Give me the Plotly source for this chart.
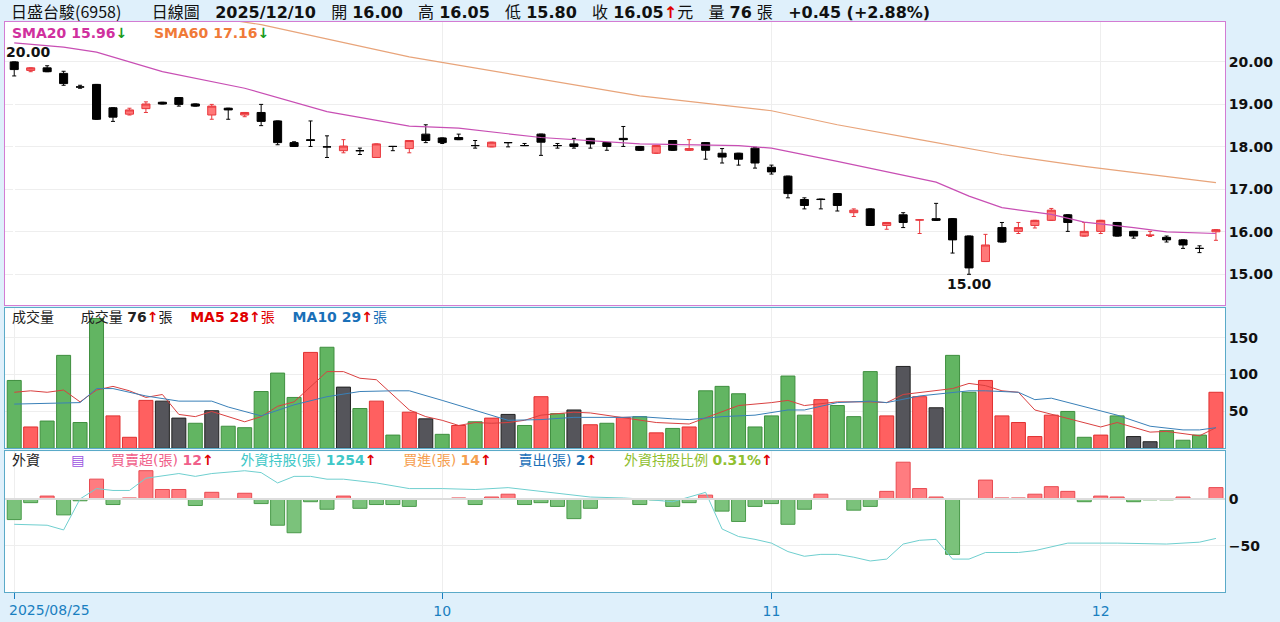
import plotly.graph_objects as go
from plotly.subplots import make_subplots

# ---- data (74 trading days, 2025/08/25 .. 2025/12/10) ----
opens = [20.00, 19.80, 19.86, 19.73, 19.41, 19.47, 18.92, 18.77, 18.90, 19.05,
         19.16, 19.01, 18.75, 18.91, 18.75, 18.81, 18.61, 18.10, 18.17, 18.00,
         17.91, 17.91, 17.75, 18.01, 17.96, 18.30, 18.21, 18.22, 18.03, 18.00,
         18.10, 18.03, 18.30, 18.03, 18.07, 18.20, 18.10, 18.20, 18.01, 17.85,
         18.15, 17.92, 18.10, 17.85, 17.85, 17.97, 17.52, 17.31, 16.76, 16.77,
         16.90, 16.45, 16.54, 16.15, 16.40, 16.28, 16.31, 16.31, 15.90, 15.30,
         16.10, 16.01, 16.15, 16.27, 16.40, 15.90, 16.01, 16.22, 16.01, 15.92,
         15.87, 15.81, 15.61, 16.00]
highs = [20.00, 19.86, 19.91, 19.78, 19.45, 19.47, 18.92, 18.91, 19.06, 19.05,
         19.16, 19.01, 19.00, 18.91, 18.81, 19.00, 18.61, 18.12, 18.61, 18.26,
         18.17, 17.97, 18.07, 18.01, 18.15, 18.52, 18.21, 18.30, 18.15, 18.11,
         18.10, 18.08, 18.30, 18.08, 18.20, 18.20, 18.10, 18.48, 18.01, 18.03,
         18.15, 18.17, 18.10, 17.96, 17.85, 17.99, 17.57, 17.31, 16.80, 16.77,
         16.90, 16.54, 16.54, 16.22, 16.45, 16.28, 16.67, 16.31, 15.90, 15.94,
         16.22, 16.22, 16.27, 16.55, 16.40, 16.22, 16.27, 16.22, 16.01, 16.01,
         15.90, 15.81, 15.67, 16.05]
lows = [19.67, 19.77, 19.77, 19.45, 19.38, 18.65, 18.60, 18.75, 18.81, 19.01,
        18.96, 18.96, 18.65, 18.65, 18.71, 18.50, 18.05, 18.01, 18.01, 17.75,
        17.86, 17.82, 17.75, 17.91, 17.86, 18.10, 18.08, 18.17, 17.97, 18.00,
        18.00, 18.03, 17.80, 17.97, 17.97, 17.97, 17.92, 18.01, 17.92, 17.85,
        17.92, 17.92, 17.71, 17.62, 17.57, 17.50, 17.36, 16.80, 16.54, 16.54,
        16.49, 16.36, 16.15, 16.06, 16.10, 15.96, 16.27, 15.50, 15.00, 15.30,
        15.76, 15.96, 16.09, 16.27, 16.01, 15.90, 15.96, 15.90, 15.85, 15.89,
        15.76, 15.61, 15.51, 15.80]
closes = [19.82, 19.86, 19.77, 19.49, 19.41, 18.65, 18.70, 18.87, 19.01, 19.01,
          19.00, 18.96, 18.96, 18.87, 18.81, 18.60, 18.10, 18.01, 18.15, 18.00,
          18.02, 17.91, 18.07, 18.01, 18.15, 18.15, 18.10, 18.17, 18.03, 18.11,
          18.10, 18.03, 18.11, 18.03, 18.01, 18.07, 18.01, 18.17, 17.92, 18.03,
          17.92, 17.96, 17.92, 17.76, 17.71, 17.62, 17.41, 16.90, 16.62, 16.76,
          16.62, 16.51, 16.15, 16.22, 16.22, 16.28, 16.27, 15.81, 15.15, 15.69,
          15.76, 16.10, 16.27, 16.51, 16.22, 16.01, 16.27, 15.90, 15.90, 15.92,
          15.81, 15.69, 15.61, 16.05]

sma20_x = [0, 3, 5, 9, 14, 19, 24, 27, 32, 38, 44, 46, 50, 56, 58, 60, 63, 65, 68, 70, 73]
sma20_y = [20.45, 20.35, 20.23, 19.77, 19.38, 18.83, 18.49, 18.44, 18.22, 18.07, 18.03,
           17.97, 17.66, 17.17, 16.84, 16.57, 16.41, 16.23, 16.10, 16.00, 15.96]
sma60_x = [12, 15, 24, 38, 46, 50, 55, 60, 65, 70, 73]
sma60_y = [21.05, 20.88, 20.12, 19.20, 18.85, 18.52, 18.17, 17.82, 17.54, 17.31, 17.16]

volume = [92, 29, 37, 126, 35, 176, 44, 15, 65, 64, 41, 34, 51, 30, 28, 77, 102, 69, 130, 137,
          83, 54, 64, 18, 49, 40, 19, 31, 36, 41, 46, 31, 70, 47, 52, 32, 34, 42, 43, 21,
          27, 29, 78, 84, 74, 29, 44, 98, 45, 66, 58, 43, 104, 44, 111, 70, 55, 126, 76, 92,
          44, 35, 16, 45, 50, 15, 18, 44, 16, 9, 24, 11, 18, 76]
# G = green, R = red, D = dark grey
vol_kind = list("GRGGGGRRRDDGDGGGGGRGDGRGRDGRGRDGRGDRGRG"
                "RGRGGGGGGGRGGGRDRDGGRRRRRGGRGDDGGGR")

ma5_x = list(range(0, 39)) + [39, 41, 42, 44, 46, 47, 48, 50, 52, 53, 54, 55, 57, 58, 59, 60, 61, 62, 64, 66, 67, 69, 70, 72, 73]
ma5_y = [76, 78, 76, 79, 63, 79, 84, 78, 69, 73, 46, 43, 50, 43, 36, 43, 57, 63, 83, 104,
         104, 95, 93, 73, 52, 43, 38, 31, 35, 34, 35, 38, 45, 47, 49, 48, 45, 41, 38,
         35, 33, 41, 58, 62, 65, 58, 63, 63, 62, 73, 76, 81, 88, 85, 78, 76, 52, 41, 29,
         35, 22, 23, 17, 28]
ma10_x = [0, 3, 4, 5, 6, 8, 10, 12, 13, 15, 17, 19, 21, 23, 24, 26, 28, 30, 32, 34, 37,
          38, 40, 41, 43, 45, 47, 48, 50, 52, 53, 55, 58, 59, 61, 62, 63, 65, 66, 67, 69, 71, 72, 73]
ma10_y = [60, 62, 62, 81, 81, 71, 64, 64, 56, 44, 59, 70, 77, 78, 78, 65, 52, 38, 39, 42, 42,
          43, 40, 39, 43, 45, 52, 52, 62, 64, 62, 71, 78, 78, 76, 66, 68, 57, 51, 45, 30, 25, 25, 28]

foreign_net = [-22, -4, 3, -17, -2, 21, -6, 1, 30, 10, 10, -7, 7, 0, 6, -5, -28, -36, -3, -11,
               3, -10, -6, -6, -8, 0, 0, 1, -6, 2, 5, -6, -4, -8, -21, -10, 0, 0, -6, -1,
               -8, -4, 4, -13, -24, -8, -5, -27, -11, 5, 0, -12, -8, 8, 39, 11, 2, -59, 0, 20,
               1, 1, 5, 13, 8, -3, 3, 2, -3, -1, -1, 2, 0, 12]
# foreign holdings (張), estimated from the unlabeled line
hold_x = [0, 2, 3, 4, 5, 6, 7, 8, 10, 11, 12, 14, 15, 16, 17, 18, 19, 20, 22, 24, 26, 28,
          30, 32, 33, 35, 37, 38, 40, 42, 43, 44, 45, 46, 47, 48, 49, 50, 51, 52, 53, 54,
          55, 56, 57, 58, 59, 61, 62, 64, 66, 67, 70, 72, 73]
hold_y = [1314, 1310, 1290, 1422, 1466, 1458, 1458, 1510, 1530, 1518, 1530, 1542, 1534, 1490,
          1518, 1518, 1506, 1506, 1490, 1466, 1466, 1462, 1470, 1454, 1446, 1430, 1426, 1422,
          1410, 1450, 1294, 1262, 1250, 1234, 1198, 1178, 1186, 1186, 1174, 1158, 1166, 1230,
          1246, 1250, 1166, 1166, 1194, 1194, 1202, 1234, 1234, 1234, 1230, 1238, 1254]

tick_idx = [0, 26, 46, 66]
tick_txt = ["", "10", "11", "12"]
first_date = "2025/08/25"

FONT = "DejaVu Sans, Noto Sans CJK TC, sans-serif"
CJK = "Noto Sans CJK TC, sans-serif"
vol_colors = {"G": ("#62b562", "#3f8f3f"), "R": ("#ff6060", "#e03030"), "D": ("#55555b", "#222222")}

fig = make_subplots(rows=3, cols=1, shared_xaxes=True,
                    specs=[[{}], [{}], [{"secondary_y": True}]])

idx = list(range(len(closes)))
fig.add_trace(go.Candlestick(
    x=idx, open=opens, high=highs, low=lows, close=closes,
    increasing=dict(line=dict(color="#e8383d", width=1), fillcolor="#ff7878"),
    decreasing=dict(line=dict(color="#000000", width=1), fillcolor="#000000"),
    whiskerwidth=0.5, showlegend=False, hoverinfo="skip"), row=1, col=1)
fig.add_trace(go.Scatter(x=sma20_x, y=sma20_y, mode="lines",
                         line=dict(color="#c84fb4", width=1.2), showlegend=False), row=1, col=1)
fig.add_trace(go.Scatter(x=sma60_x, y=sma60_y, mode="lines",
                         line=dict(color="#e8a47a", width=1.2), showlegend=False), row=1, col=1)

fig.add_trace(go.Bar(x=idx, y=volume, width=0.85,
                     marker=dict(color=[vol_colors[k][0] for k in vol_kind],
                                 line=dict(color=[vol_colors[k][1] for k in vol_kind], width=1)),
                     showlegend=False), row=2, col=1)
fig.add_trace(go.Scatter(x=ma5_x, y=ma5_y, mode="lines",
                         line=dict(color="#d94040", width=1), showlegend=False), row=2, col=1)
fig.add_trace(go.Scatter(x=ma10_x, y=ma10_y, mode="lines",
                         line=dict(color="#3a80b8", width=1), showlegend=False), row=2, col=1)

fig.add_trace(go.Bar(x=idx, y=foreign_net, width=0.85,
                     marker=dict(color=["#ff7c80" if v > 0 else "#7bc27b" for v in foreign_net],
                                 line=dict(color=["#e84a50" if v > 0 else "#4a9a4a" for v in foreign_net], width=1)),
                     showlegend=False), row=3, col=1, secondary_y=False)
fig.add_trace(go.Scatter(x=hold_x, y=hold_y, mode="lines",
                         line=dict(color="#6fcfcf", width=1), showlegend=False),
              row=3, col=1, secondary_y=True)

axis_common = dict(showgrid=True, gridcolor="#eeeeee", zeroline=False, showline=True,
                   mirror=True, ticks="", automargin=False,
                   tickfont=dict(family="DejaVu Sans", size=14, color="#111", weight="bold"))
fig.update_layout(
    width=1280, height=622, margin=dict(l=5, r=55, t=22, b=30, autoexpand=False),
    paper_bgcolor="#dff0fb", plot_bgcolor="#ffffff",
    font=dict(family=FONT), bargap=0.1, showlegend=False,
    xaxis_rangeslider_visible=False,
    yaxis=dict(domain=[0.503, 1.0], range=[14.27, 20.94], side="right",
               tickvals=[15, 16, 17, 18, 19, 20], tickformat=".2f", linecolor="#d37cd3", **axis_common),
    yaxis2=dict(domain=[0.252, 0.498], range=[0, 190], side="right",
                tickvals=[50, 100, 150], linecolor="#5aaac8", **axis_common),
    yaxis3=dict(domain=[0.0, 0.247], range=[-99, 50.7], side="right",
                tickvals=[-50, 0], linecolor="#5aaac8", **axis_common),
    yaxis4=dict(range=[1026, 1625], overlaying="y3", visible=False),
)
for ax in ["xaxis", "xaxis2", "xaxis3"]:
    fig.layout[ax].update(domain=[0, 1], range=[-0.56, 73.55], showgrid=True, gridcolor="#eeeeee",
                          tickvals=tick_idx, showline=True, mirror=True, automargin=False)
fig.layout.xaxis.update(linecolor="#d37cd3", showticklabels=False)
fig.layout.xaxis2.update(linecolor="#5aaac8", showticklabels=False)
fig.layout.xaxis3.update(linecolor="#5aaac8", ticktext=tick_txt, ticks="outside", ticklen=6,
                         tickcolor="#1a7fc0", tickfont=dict(family="DejaVu Sans", size=14, color="#1a7fc0"))
# zero line of foreign panel
fig.add_hline(y=0, line=dict(color="#dddddd", width=2), row=3, col=1)

UP = "<span style='color:#e00000'>↑</span>"
DN = "<span style='color:#1a9a1a'>↓</span>"
SP = "&nbsp;"
anns = [
    dict(x=0.003, y=1.0, yshift=-3, xanchor="left", yanchor="bottom", font=dict(size=16, color="#111"),
         text=f"<span style='font-family:{CJK}'>日盛台駿(6958)</span>{SP*6}日線圖{SP*2} <b>2025/12/10</b>{SP*2} 開 <b>16.00</b>{SP*2} 高 <b>16.05</b>{SP*2} 低 <b>15.80</b>{SP*2} 收 <b>16.05</b>"
              + f"<b>{UP}</b>元{SP*2} 量 <b>76</b> 張{SP*2} <b>+0.45 (+2.88%)</b>"),
    dict(x=0.004, y=0.998, xanchor="left", yanchor="top", font=dict(size=14),
         text=f"<b><span style='color:#d0309e'>SMA20 15.96</span>{DN}</b>{SP*6}<b><span style='color:#f07a38'>SMA60 17.16</span>{DN}</b>"),
    dict(x=0.004, y=0.500, xanchor="left", yanchor="top", font=dict(size=14, color="#222"),
         text=f"成交量{SP*6}成交量 <b>76</b><b>{UP}</b>張{SP*4}<span style='color:#e00000'><b>MA5 28</b><b>↑</b>張</span>{SP*4}"
              f"<span style='color:#1a70b8'><b>MA10 29</b></span><b>{UP}</b><span style='color:#1a70b8'>張</span>"),
    dict(x=0.004, y=0.249, xanchor="left", yanchor="top", font=dict(size=14, color="#222"),
         text=f"外資{SP*7}<span style='color:#9b50e0'>▤</span>{SP*6}<span style='color:#f0608a'>買賣超(張) <b>12</b></span>"
              f"<b>{UP}</b>{SP*6}<span style='color:#40c8c8'>外資持股(張) <b>1254</b></span><b>{UP}</b>{SP*6}"
              f"<span style='color:#f6a050'>買進(張) <b>14</b></span><b>{UP}</b>{SP*6}<span style='color:#1a70b8'>賣出(張) <b>2</b></span>"
              f"<b>{UP}</b>{SP*6}<span style='color:#90c030'>外資持股比例 <b>0.31%</b></span><b>{UP}</b>"),
    dict(x=0.002, y=0, yshift=-8, xanchor="left", yanchor="top", text=first_date,
         font=dict(size=14, color="#1a7fc0")),
]
for a in anns:
    a.update(xref="paper", yref="paper", showarrow=False)
    a["font"]["family"] = FONT
    fig.add_annotation(**a)
fig.add_annotation(x=0, y=20.0, xref="x", yref="y", text="<b>20.00</b>", showarrow=False,
                   yanchor="bottom", xanchor="left", xshift=-10,
                   font=dict(size=14, color="#111", family="DejaVu Sans"))
fig.add_annotation(x=58, y=15.0, xref="x", yref="y", text="<b>15.00</b>", showarrow=False,
                   yanchor="top", font=dict(size=14, color="#111", family="DejaVu Sans"))

fig.write_html("out.html", config={"displayModeBar": False},
               post_script="document.body.style.margin='0';")
